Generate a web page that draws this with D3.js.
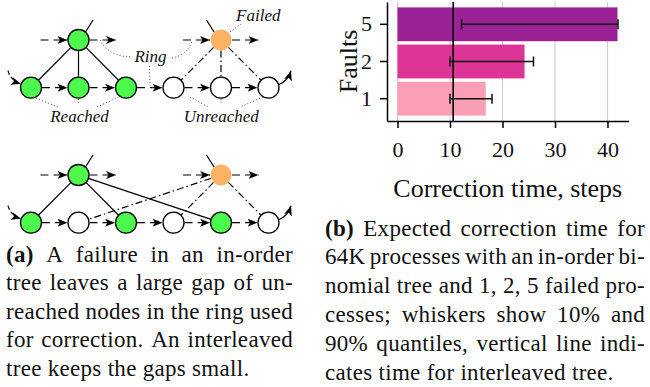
<!DOCTYPE html>
<html>
<head>
<meta charset="utf-8">
<script src="https://cdn.jsdelivr.net/npm/d3@7/dist/d3.min.js"></script>
<style>
  html, body { margin: 0; padding: 0; background: #fff; }
  svg { display: block; }
  text { font-family: "Liberation Serif", "Times New Roman", serif; fill: #111; }
</style>
</head>
<body>
<svg id="fig" width="650" height="387" font-family="Liberation Serif"></svg>
<script>
// ---- Correction-time data (bar chart, panel b) ----
const faults = ["1", "2", "5"];
const meanSteps = [16.8, 24.2, 41.9];
const q10Steps = [10.0, 10.0, 12.2];
const q90Steps = [18.0, 25.9, 42.0];
const interleavedSteps = 10.6;
const xTicks = [0, 10, 20, 30, 40];
const barColors = ["#fa9fb5", "#dd3497", "#9a2296"];

// ---- Ring / tree diagrams (panel a) ----
// state of each ring position, left to right
const ringInOrder = ["reached", "reached", "reached", "unreached", "unreached", "unreached"];
const ringInterleaved = ["reached", "unreached", "reached", "unreached", "reached", "unreached"];
// tree roots above the ring and the ring positions they feed
const rootsInOrder = [
  { col: 1, state: "reached", children: [0, 1, 2] },
  { col: 4, state: "failed", children: [3, 4, 5] }
];
const rootsInterleaved = [
  { col: 1, state: "reached", children: [0, 2, 4] },
  { col: 4, state: "failed", children: [1, 3, 5] }
];

const captionA = [
  "(a) A failure in an in-order",
  "tree leaves a large gap of un-",
  "reached nodes in the ring used",
  "for correction. An interleaved",
  "tree keeps the gaps small."
];
const captionB = [
  "(b) Expected correction time for",
  "64K processes with an in-order bi-",
  "nomial tree and 1, 2, 5 failed pro-",
  "cesses; whiskers show 10% and",
  "90% quantiles, vertical line indi-",
  "cates time for interleaved tree."
];

const svg = d3.select("#fig");

// arrow head
svg.append("defs").append("marker")
  .attr("id", "arr")
  .attr("viewBox", "0 0 10 8")
  .attr("refX", 10).attr("refY", 4)
  .attr("markerWidth", 10).attr("markerHeight", 8)
  .attr("markerUnits", "userSpaceOnUse")
  .attr("orient", "auto")
  .append("path").attr("d", "M0,0 L10,4 L0,8 L2.5,4 Z").attr("fill", "#000");

const fillFor = { reached: "#4df94d", unreached: "#ffffff", failed: "#fdb266" };
const R = 10.5;
const colX = d3.scaleLinear().domain([0, 5]).range([31, 268.5]);

function diagram(g, ring, roots, yTop, yBot) {
  const dashed = "8,5";
  const lineG = g.append("g").attr("fill", "none").attr("stroke", "#000").attr("stroke-width", 1.2);

  // tree edges
  roots.forEach(rt => {
    const x0 = colX(rt.col);
    rt.children.forEach(c => {
      const x1 = colX(c);
      const dx = x1 - x0, dy = yBot - yTop, L = Math.hypot(dx, dy);
      lineG.append("line")
        .attr("x1", x0 + dx / L * R).attr("y1", yTop + dy / L * R)
        .attr("x2", x1 - dx / L * R).attr("y2", yBot - dy / L * R)
        .attr("stroke-dasharray", rt.state === "failed" ? "7,3,1.5,3" : null);
    });
    // link up to the parent
    const side = rt.state === "failed" ? -1 : 1;
    lineG.append("line")
      .attr("x1", x0 + side * 7).attr("y1", yTop - 8)
      .attr("x2", x0 + side * 14.5).attr("y2", yTop - 20);
    // ring arrows through the root
    lineG.append("line").attr("stroke-dasharray", dashed).attr("marker-end", "url(#arr)")
      .attr("x1", x0 - R - 27.5).attr("y1", yTop).attr("x2", x0 - R - 0.5).attr("y2", yTop);
    lineG.append("line").attr("stroke-dasharray", dashed).attr("marker-end", "url(#arr)")
      .attr("x1", x0 + R + 0.5).attr("y1", yTop).attr("x2", x0 + R + 27).attr("y2", yTop);
  });

  // ring arrows along the bottom row
  for (let i = 0; i < ring.length - 1; i++) {
    lineG.append("line").attr("stroke-dasharray", dashed).attr("marker-end", "url(#arr)")
      .attr("x1", colX(i) + R + 0.5).attr("y1", yBot)
      .attr("x2", colX(i + 1) - R - 0.5).attr("y2", yBot);
  }
  // ring entering at the left, leaving at the right
  lineG.append("path").attr("stroke-dasharray", "4,2.5").attr("marker-end", "url(#arr)")
    .attr("d", `M8,${yBot - 17} Q10.5,${yBot - 7} ${colX(0) - R + 0.5},${yBot - 4}`);
  lineG.append("path").attr("marker-end", "url(#arr)")
    .attr("d", `M${colX(5) + R - 0.5},${yBot - 3} Q${colX(5) + 19},${yBot - 6} ${colX(5) + 22.5},${yBot - 17}`);

  // nodes
  const nodes = ring.map((s, i) => ({ x: colX(i), y: yBot, state: s }))
    .concat(roots.map(rt => ({ x: colX(rt.col), y: yTop, state: rt.state })));
  g.selectAll("circle.node").data(nodes).join("circle")
    .attr("class", "node")
    .attr("cx", d => d.x).attr("cy", d => d.y).attr("r", R)
    .attr("fill", d => fillFor[d.state])
    .attr("stroke", d => d.state === "failed" ? "none" : "#000")
    .attr("stroke-width", 1.3);
}

const dA = svg.append("g");
diagram(dA, ringInOrder, rootsInOrder, 40, 87.7);
const dB = svg.append("g");
diagram(dB, ringInterleaved, rootsInterleaved, 175, 222.7);

// annotations on the in-order diagram
const note = dA.append("g").attr("fill", "none").attr("stroke", "#444")
  .attr("stroke-width", 1).attr("stroke-dasharray", "1,2.2");
[
  "M100,40 C105,51 118,57 131,57",
  "M172,58 C183,56 189,50 192,41",
  "M149.5,66 L150,84 Q150,87.7 154,87.7",
  "M230,32 L241,24",
  "M33,97 L58,107", "M78.5,99 L78.5,103", "M118.5,97 L97,107",
  "M190,97 L208,107", "M221,99 L221,103", "M263,97 L240,107"
].forEach(d => note.append("path").attr("d", d));

const lab = dA.append("g").attr("font-family", "Liberation Serif").attr("font-style", "italic")
  .attr("font-size", 17).attr("text-anchor", "middle");
lab.append("text").attr("x", 258.3).attr("y", 20.5).text("Failed");
lab.append("text").attr("x", 150.5).attr("y", 61.5).text("Ring");
lab.append("text").attr("x", 79.5).attr("y", 122).text("Reached");
lab.append("text").attr("x", 221.3).attr("y", 122).text("Unreached");

// ---- bar chart ----
const x = d3.scaleLinear().domain([-2, 44]).range([387, 628.5]);
const y = d3.scaleBand().domain(faults).range([121, 2]).paddingInner(0.09).paddingOuter(0.145);
const rows = faults.map((f, i) => ({ f, mean: meanSteps[i], lo: q10Steps[i], hi: q90Steps[i], color: barColors[i] }));
const chart = svg.append("g").attr("font-family", "Liberation Serif");

chart.append("g").selectAll("line").data(xTicks).join("line")
  .attr("x1", d => x(d)).attr("x2", d => x(d))
  .attr("y1", y.range()[1]).attr("y2", y.range()[0])
  .attr("stroke", "#cfcfcf").attr("stroke-width", 1.2);

chart.append("g").selectAll("rect").data(rows).join("rect")
  .attr("x", x(0)).attr("y", d => y(d.f))
  .attr("width", d => x(d.mean) - x(0)).attr("height", y.bandwidth())
  .attr("fill", d => d.color);

chart.append("line")
  .attr("x1", x(interleavedSteps)).attr("x2", x(interleavedSteps))
  .attr("y1", y.range()[1]).attr("y2", y.range()[0])
  .attr("stroke", "#000").attr("stroke-width", 1.6);

const wk = chart.append("g").attr("stroke", "#111").attr("stroke-width", 1.5);
rows.forEach(d => {
  const cy = y(d.f) + y.bandwidth() / 2;
  wk.append("line").attr("x1", x(d.lo)).attr("x2", x(d.hi)).attr("y1", cy).attr("y2", cy);
  [d.lo, d.hi].forEach(v => wk.append("line")
    .attr("x1", x(v)).attr("x2", x(v)).attr("y1", cy - 5).attr("y2", cy + 5));
});

const xAxis = chart.append("g").attr("transform", `translate(0,${y.range()[0]})`)
  .call(d3.axisBottom(x).tickValues(xTicks).tickSize(7).tickPadding(13).tickSizeOuter(0));
const yAxis = chart.append("g").attr("transform", `translate(${x.range()[0]},0)`)
  .call(d3.axisLeft(y).tickSize(7).tickPadding(8).tickSizeOuter(0));
[xAxis, yAxis].forEach(a => {
  a.selectAll("path, line").attr("stroke", "#000").attr("stroke-width", 1.5);
  a.selectAll("text").attr("font-family", "Liberation Serif").attr("font-size", 22).attr("fill", "#111");
});

chart.append("text").attr("x", (x.range()[0] + x.range()[1]) / 2).attr("y", 196.5)
  .attr("text-anchor", "middle").attr("font-size", 26).text("Correction time, steps");
chart.append("text").attr("transform", `translate(356.5,${(y.range()[0] + y.range()[1]) / 2}) rotate(-90)`)
  .attr("text-anchor", "middle").attr("font-size", 26).text("Faults");

// ---- justified captions ----
function caption(lines, x0, width, y0, lh) {
  const g = svg.append("g").attr("font-family", "Liberation Serif")
    .attr("font-size", 23).attr("letter-spacing", 0.3);
  const probe = g.append("text").text("a a");
  const probe2 = g.append("text").text("aa");
  const space = probe.node().getComputedTextLength() - probe2.node().getComputedTextLength();
  probe.remove(); probe2.remove();
  lines.forEach((line, i) => {
    const words = line.split(" ");
    const t = g.append("text").attr("y", y0 + i * lh);
    const spans = words.map(w => t.append("tspan")
      .attr("font-weight", /^\([a-z]\)$/.test(w) ? "bold" : null).text(w));
    const widths = spans.map(s => s.node().getComputedTextLength());
    const last = i === lines.length - 1;
    const gap = last ? space : (width - d3.sum(widths)) / (words.length - 1);
    let cx = x0;
    spans.forEach((s, j) => { s.attr("x", cx); cx += widths[j] + gap; });
  });
}
caption(captionA, 6, 287, 262, 28.4);
caption(captionB, 325, 320, 235.5, 28.9);
</script>
</body>
</html>
